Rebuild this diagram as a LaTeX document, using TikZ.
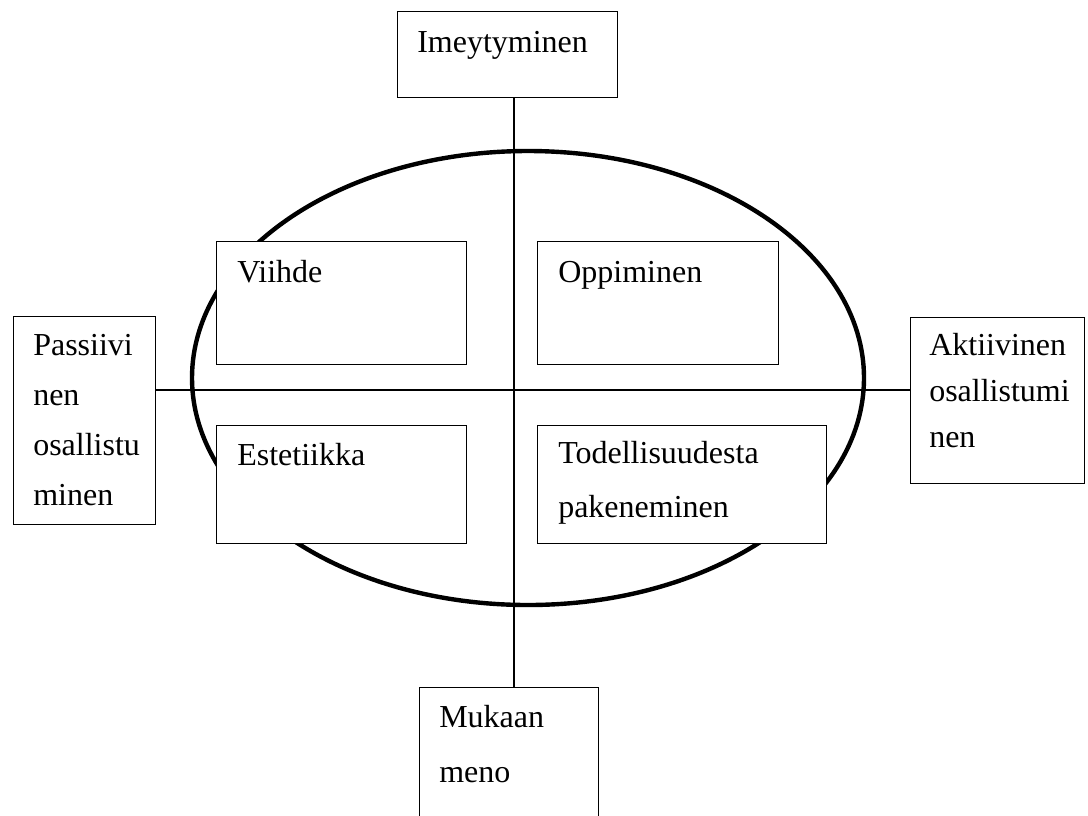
\documentclass[tikz,border=0pt]{standalone}
\usepackage{fontspec}
\setmainfont{Liberation Serif}

\begin{document}
\begin{tikzpicture}[
    x=0.75pt,y=-0.75pt,
    box/.style={draw,fill=white,line width=0.9pt,anchor=north west,inner sep=0pt},
    txt/.style={anchor=base west,align=left,inner sep=0pt,font=\fontsize{24}{37.5}\selectfont},
    axis/.style={line width=1.2pt},
    ring/.style={line width=3.3pt}]
  \clip (0,0) rectangle (1088,815);
  % the big ellipse
  \draw[ring] (528,378) ellipse [x radius=336,y radius=227];
  \coordinate (mid) at (514,390);
  % outer boxes
  \node[box,minimum width=165pt,minimum height=64.5pt] (ime) at (397,11) {};
  \node[box,minimum width=106.5pt,minimum height=156pt] (pas) at (13,316) {};
  \node[box,minimum width=130.5pt,minimum height=124.5pt] (akt) at (910,317) {};
  \node[box,minimum width=134.25pt,minimum height=105pt] (muk) at (419,687) {};
  % axes
  \draw[axis] (ime.south -| mid) -- (muk.north -| mid);
  \draw[axis] (pas.east |- mid) -- (akt.west |- mid);
  % inner boxes
  \node[box,minimum width=187.5pt,minimum height=92.25pt] (vii) at (216,241) {};
  \node[box,minimum width=180.75pt,minimum height=92.25pt] (opp) at (537,241) {};
  \node[box,minimum width=187.5pt,minimum height=88.5pt] (est) at (216,425) {};
  \node[box,minimum width=216.75pt,minimum height=88.5pt] (tod) at (537,425) {};
  % texts (base = last line)
  \node[txt] (imeT) at ([shift={(20,41)}]ime.north west) {Imeytyminen};
  \node[txt] (pasT) at ([shift={(20,189)}]pas.north west) {Passiivi\\nen\\osallistu\\minen};
  \node[txt,font=\fontsize{24}{34.5}\selectfont] (aktT) at ([shift={(19,130)}]akt.north west) {Aktiivinen\\osallistumi\\nen};
  \node[txt,font=\fontsize{24}{41.25}\selectfont] (mukT) at ([shift={(20,95)}]muk.north west) {Mukaan\\meno};
  \node[txt] (viiT) at ([shift={(21,41)}]vii.north west) {Viihde};
  \node[txt] (oppT) at ([shift={(21,41)}]opp.north west) {Oppiminen};
  \node[txt] (estT) at ([shift={(21,40)}]est.north west) {Estetiikka};
  \node[txt,font=\fontsize{24}{40.5}\selectfont] (todT) at ([shift={(21,92)}]tod.north west) {Todellisuudesta\\pakeneminen};
\end{tikzpicture}
\end{document}
